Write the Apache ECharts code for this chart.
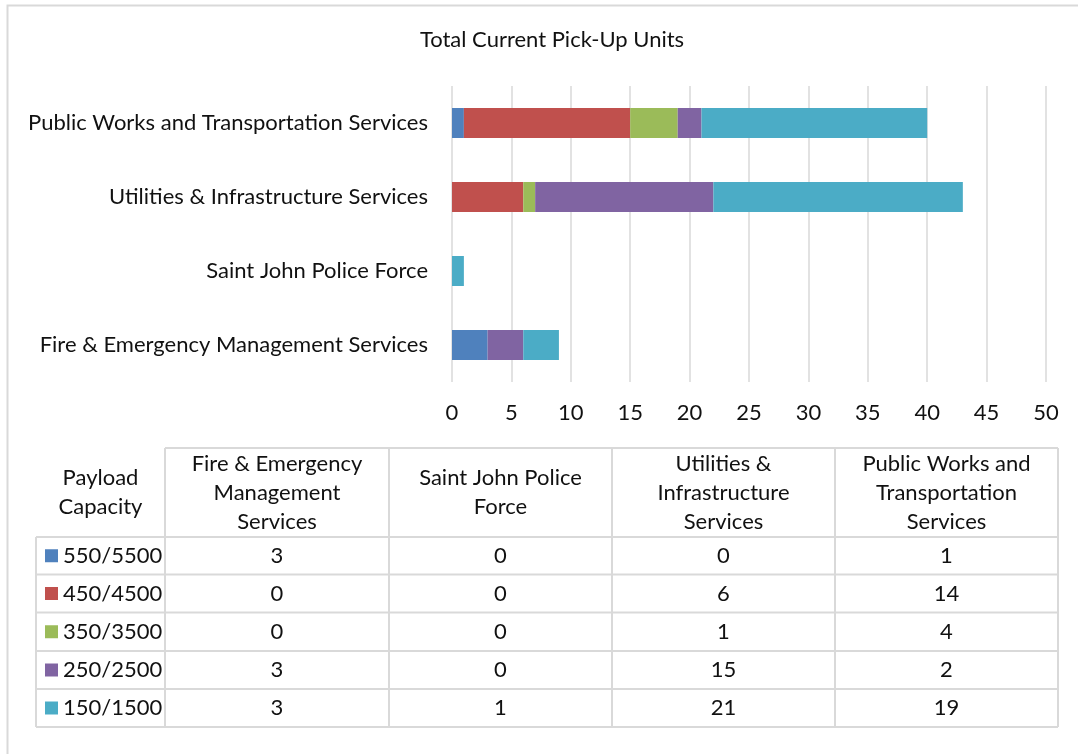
<!DOCTYPE html>
<html><head><meta charset="utf-8">
<script src="https://cdn.jsdelivr.net/npm/echarts@6/dist/echarts.min.js"></script>
<style>html,body{margin:0;padding:0;background:#fff}#c{width:1078px;height:754px}</style>
</head><body><div id="c"></div>
<script>
// ---- data ----
const categories = ['Fire & Emergency Management Services', 'Saint John Police Force', 'Utilities & Infrastructure Services', 'Public Works and Transportation Services'];
const tableHeaders = ['Fire & Emergency\nManagement\nServices', 'Saint John Police\nForce', 'Utilities &\nInfrastructure\nServices', 'Public Works and\nTransportation\nServices'];
const tableCorner = 'Payload\nCapacity';
const payloads = ['550/5500', '450/4500', '350/3500', '250/2500', '150/1500'];
const v550 = [3, 0, 0, 1];
const v450 = [0, 0, 6, 14];
const v350 = [0, 0, 1, 4];
const v250 = [3, 0, 15, 2];
const v150 = [3, 1, 21, 19];
const seriesValues = [v550, v450, v350, v250, v150];
const title = 'Total Current Pick-Up Units';

// ---- style ----
const colors = ['#4F81BD', '#C0504D', '#9BBB59', '#8064A2', '#4BACC6'];
const FONT = 'Lato, "Open Sans", sans-serif';
const TXT = '#111';
const LINE = '#d9d9d9';
const FS = 22;

// table layout
const colX = [36, 165, 389, 612, 835, 1058];
const rowY = [448, 537, 574.5, 612.5, 651, 689, 727];

const g = [];
// outer chart border
g.push({ type: 'rect', shape: { x: 7.5, y: 5.5, width: 1080, height: 760 }, style: { fill: 'none', stroke: LINE, lineWidth: 2 }, silent: true, z: 0 });
// horizontal table lines
rowY.forEach((y, i) => {
  g.push({ type: 'line', shape: { x1: i === 0 ? colX[1] : colX[0], y1: y, x2: colX[5], y2: y }, style: { stroke: LINE, lineWidth: 2 }, silent: true });
});
// vertical table lines
colX.forEach((x, i) => {
  g.push({ type: 'line', shape: { x1: x, y1: i === 0 ? rowY[1] : rowY[0], x2: x, y2: rowY[6] }, style: { stroke: LINE, lineWidth: 2 }, silent: true });
});
function txt(s, x, y, align) {
  return { type: 'text', style: { text: s, x: x, y: y, align: align || 'center', verticalAlign: 'middle', fontSize: FS, fontFamily: FONT, lineHeight: 29, fill: TXT }, silent: true };
}
// header
g.push(txt(tableCorner, (colX[0] + colX[1]) / 2, (rowY[0] + rowY[1]) / 2));
tableHeaders.forEach((h, j) => g.push(txt(h, (colX[j + 1] + colX[j + 2]) / 2, (rowY[0] + rowY[1]) / 2)));
// rows
payloads.forEach((p, i) => {
  const cy = (rowY[i + 1] + rowY[i + 2]) / 2;
  g.push({ type: 'rect', shape: { x: 45, y: cy - 6.5, width: 13, height: 13 }, style: { fill: colors[i] }, silent: true });
  g.push(txt(p, 63, cy, 'left'));
  seriesValues[i].forEach((v, j) => g.push(txt(String(v), (colX[j + 1] + colX[j + 2]) / 2, cy)));
});

const chart = echarts.init(document.getElementById('c'), null, { renderer: 'canvas' });
chart.setOption({
  backgroundColor: '#fff',
  animation: false,
  color: colors,
  textStyle: { fontFamily: FONT, color: TXT },
  title: { text: title, left: 547, top: 24, textAlign: 'center', textStyle: { fontSize: FS, fontWeight: 'normal', color: TXT, fontFamily: FONT } },
  grid: { left: 452, right: 32, top: 86, height: 296, containLabel: false },
  xAxis: {
    type: 'value', min: 0, max: 50, interval: 5,
    axisLine: { show: false }, axisTick: { show: false },
    splitLine: { show: true, lineStyle: { color: LINE, width: 1.5 } },
    axisLabel: { margin: 20, fontSize: FS, color: TXT, fontFamily: FONT }
  },
  yAxis: {
    type: 'category', data: categories,
    axisLine: { show: false }, axisTick: { show: false },
    axisLabel: { margin: 24, fontSize: FS, color: TXT, fontFamily: FONT }
  },
  series: payloads.map((p, i) => ({
    name: p, type: 'bar', stack: 'total', data: seriesValues[i],
    barWidth: 30,
    itemStyle: { color: colors[i] }
  })),
  graphic: g
});
</script></body></html>
